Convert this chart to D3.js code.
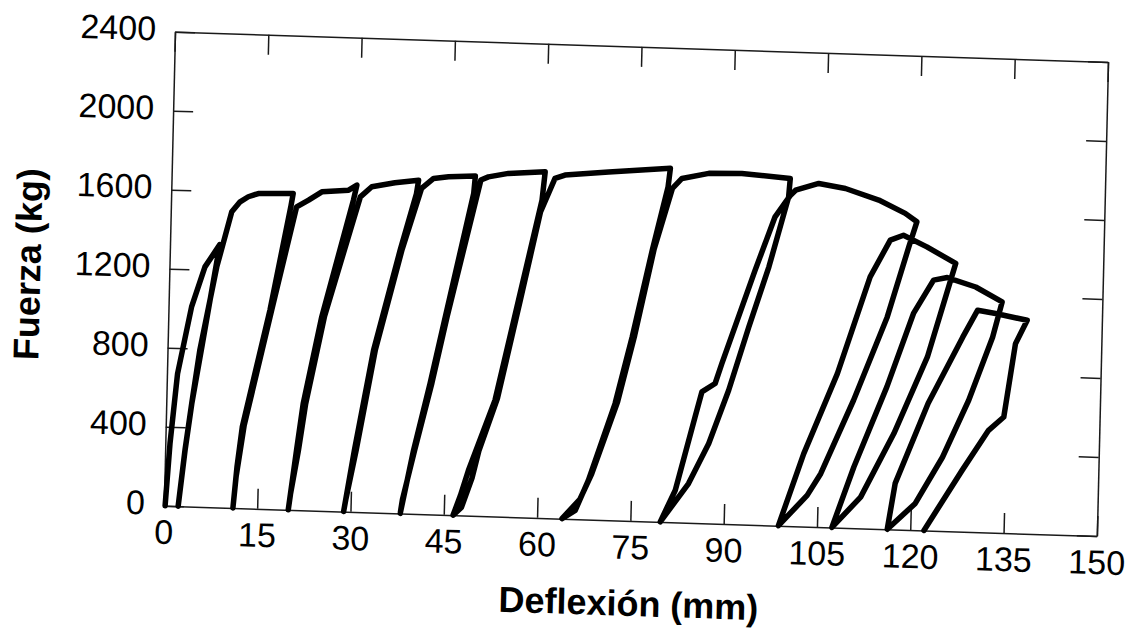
<!DOCTYPE html>
<html>
<head>
<meta charset="utf-8">
<script src="https://cdn.jsdelivr.net/npm/d3@7"></script>
<style>
body { margin: 0; background: #fff; }
svg { display: block; font-family: "Liberation Sans", Arial, sans-serif; }
</style>
</head>
<body>
<div id="chart"></div>
<script>
// tick values
var xTicks = [0, 15, 30, 45, 60, 75, 90, 105, 120, 135, 150];
var yTicks = [0, 400, 800, 1200, 1600, 2000, 2400];

// [deflexion (mm), fuerza (kg)], one array per load/unload cycle, in test order
var ciclo1 = [[0.2,0],[0.75,315],[1.7,670],[3.7,1010],[5.7,1215],[8.0,1330],[5.6,830],[4.1,520],[3.2,285],[2.3,0],
              [3.2,290],[4.1,525],[5.2,795],[7.6,1217],[9.8,1498],[11.1,1550],[12.4,1577],[14.0,1595],[19.6,1601]];
var ciclo2 = [[19.3,1540],[16.3,1006],[12.3,411],[11.6,208],[11.1,0],[11.5,160],[12.6,420],[16.6,1010],[20.2,1534],
              [22.1,1570],[24.2,1614],[28.5,1627],[29.8,1654]];
var ciclo3 = [[29.3,1577],[24.65,981],[22.0,539],[21.1,302],[20.0,0],[20.3,80],[21.4,300],[22.4,540],[25.1,985],
              [30.4,1595],[32.2,1648],[35.9,1672],[39.7,1689]];
var ciclo4 = [[39.4,1620],[37.0,1332],[33.1,821],[30.4,312],[28.9,0],[29.2,60],[30.7,315],[33.4,825],[37.3,1335],
              [40.2,1648],[42.1,1700],[44.5,1711],[48.8,1719]];
var ciclo5 = [[48.6,1631],[44.5,1001],[42.3,661],[39.9,321],[38.0,0],[38.3,70],[40.1,325],[42.6,665],[44.8,1005],
              [49.7,1700],[50.9,1717],[54.1,1738],[60.0,1752]];
var ciclo6 = [[59.6,1608],[56.2,1098],[52.8,588],[48.8,229],[47.6,100],[46.5,0],[47.8,40],[49.4,190],[50.4,330],
              [53.2,600],[56.5,1100],[59.4,1549],[61.6,1720],[63.2,1739],[70.2,1762],[80.1,1790]];
var ciclo7 = [[79.8,1696],[77.5,1373],[74.6,931],[72.1,591],[68.1,198],[66.1,44],[64.0,0],[66.8,100],[68.6,230],
              [72.5,600],[75.0,940],[77.8,1380],[80.5,1689],[82.0,1741],[86.3,1771],[91.6,1776],[99.4,1759]];
var ciclo8 = [[99.2,1665],[96.3,1308],[93.3,1001],[90.3,677],[87.3,404],[84.2,198],[79.8,0],[82.1,162],[85.0,536],
              [86.0,664],[88.1,709],[89.1,811],[94.1,1289],[97.1,1562],[99.5,1674],[100.3,1700],[104.0,1738],
              [108.3,1717],[113.7,1664],[118.0,1601],[119.9,1560]];
var ciclo9 = [[118.7,1432],[115.5,1074],[110.4,647],[105.4,270],[103.3,158],[98.8,0],[102.6,369],[107.7,779],
              [112.6,1274],[115.7,1463],[117.8,1490],[121.6,1435],[126.3,1356]];
var ciclo10 = [[124.8,1185],[122.1,878],[117.0,485],[111.9,158],[107.4,0],[110.7,309],[115.7,720],[119.7,1096],
               [122.8,1268],[125.0,1283],[129.6,1240],[133.9,1169]];
var ciclo11 = [[132.5,989],[128.9,666],[124.9,373],[120.7,135],[116.3,0],[117.4,233],[122.4,644],[127.7,984],
               [130.0,1123],[132.9,1109],[138.0,1080]];
var ciclo12 = [[136.2,960],[134.6,587],[132.2,517],[128.1,310],[122.2,0]];

function draw_chart() {
    var svg = d3.select("#chart")
        .append("svg")
        .attr("width", 1131).attr("height", 633);

    var W = 933, H = 474;
    // the original is a scanned page, slightly rotated / skewed
    var g = svg.append("g")
        .attr("transform", "matrix(1,0.0325,-0.0235,1,175,31.7)");

    var x = d3.scaleLinear().domain([0, 150]).range([0, W]);
    var y = d3.scaleLinear().domain([0, 2400]).range([H, 0]);
    var fmt = d3.format("d");

    // axes: ticks point inwards on all four sides
    var bottom = g.append("g")
        .attr("transform", "translate(0," + H + ")")
        .call(d3.axisBottom(x).tickValues(xTicks).tickFormat(fmt)
              .tickSize(-20).tickSizeOuter(0).tickPadding(14));
    var top = g.append("g")
        .call(d3.axisTop(x).tickValues(xTicks).tickSize(-20).tickSizeOuter(0).tickFormat(""));
    var left = g.append("g")
        .call(d3.axisLeft(y).tickValues(yTicks).tickFormat(fmt)
              .tickSize(-20).tickSizeOuter(0).tickPadding(19));
    var right = g.append("g")
        .attr("transform", "translate(" + W + ",0)")
        .call(d3.axisRight(y).tickValues(yTicks).tickSize(-20).tickSizeOuter(0).tickFormat(""));

    [bottom, top, left, right].forEach(function(a) {
        a.attr("font-size", 34)
         .attr("font-family", "Liberation Sans, Arial, sans-serif");
        a.selectAll("path, line").attr("stroke", "#1a1a1a").attr("stroke-width", 1.5);
        a.selectAll("text").attr("fill", "#000");
    });
    left.selectAll("text").attr("dy", "0.26em");

    // the force-deflection curve
    var datos = [].concat(ciclo1, ciclo2, ciclo3, ciclo4, ciclo5, ciclo6,
                          ciclo7, ciclo8, ciclo9, ciclo10, ciclo11, ciclo12);
    var line = d3.line()
        .x(function(d) { return x(d[0]); })
        .y(function(d) { return y(d[1]); });
    g.append("path")
        .datum(datos)
        .attr("d", line)
        .attr("fill", "none")
        .attr("stroke", "#000")
        .attr("stroke-width", 5.5)
        .attr("stroke-linejoin", "round")
        .attr("stroke-linecap", "round");

    // axis titles
    g.append("text")
        .attr("x", W / 2).attr("y", H + 95)
        .attr("text-anchor", "middle")
        .attr("font-size", 36).attr("font-weight", "bold")
        .text("Deflexión (mm)");
    g.append("text")
        .attr("transform", "translate(-129," + (H / 2) + ") rotate(-90)")
        .attr("text-anchor", "middle")
        .attr("font-size", 36).attr("font-weight", "bold")
        .text("Fuerza (kg)");
}

window.onload = draw_chart;
</script>
</body>
</html>
